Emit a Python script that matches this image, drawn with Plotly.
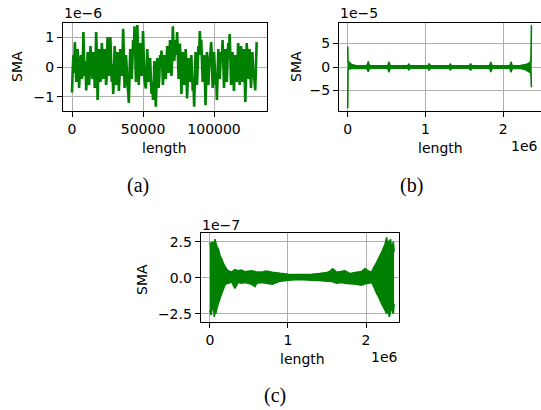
import plotly.graph_objects as go

W, H = 541, 410
GREEN = "#008000"
FONT = "DejaVu Sans"

# ---------------- (a) data: SMA (in 1e-6), one sample every 500 of length ----------------
a_sma = [
    -0.85, -0.1, 0.4, -0.2, 0.83, 0.2, -0.5, -0.1, 0.6, 0.1,
    -0.7, -0.2, 0.3, 0.4, -0.4, -0.2, 1.17, 0.3, -0.3, 0.2,
    -0.78, -0.3, 0.5, 0.1, -0.6, -0.2, 0.7, 0.3, -0.2, -0.4,
    0.5, 0.2, -0.7, -0.1, 1.17, 0.4, -1.1, -0.3, 0.6, 0.2,
    -0.5, -0.2, 0.8, 0.3, -0.4, -0.1, 0.6, 0.2, -0.6, -0.3,
    1.0, 0.4, -0.3, 0.0, 1.0, 0.3, -0.5, 0.1, -0.9, -0.4,
    0.7, 0.2, -0.6, -0.2, 0.5, 0.1, -0.8, -0.3, 0.6, 0.2,
    -0.3, 0.1, 1.28, 0.4, -0.7, -0.3, 0.4, 0.0, -0.6, -0.8,
    -1.2, -0.3, 0.6, 0.2, -0.4, 0.1, 0.9, 0.5, 1.36, 0.6,
    -0.5, 0.3, 1.4, 0.5, -0.6, 0.0, 0.8, 0.3, -0.3, 0.1,
    1.2, 0.4, -0.4, -0.6, -0.72, -0.2, 0.6, 0.0, -0.5, -0.3,
    0.3, -0.4, -0.9, -0.5, -1.1, -0.6, 0.2, -0.4, -1.33, -0.5,
    0.3, -0.2, -0.7, -0.3, 0.4, 0.1, 0.55, 0.1, -0.6, -0.2,
    0.4, 0.0, -0.4, 0.1, 0.7, 0.3, -0.2, 0.2, 0.9, 0.4,
    -0.3, 0.2, 1.36, 0.6, 0.2, 0.5, 0.9, 0.4, 1.17, 0.5,
    -0.4, 0.1, 0.78, 0.2, -0.9, -0.3, 0.5, 0.1, -0.6, -0.1,
    0.6, 0.1, -1.05, -0.4, 0.3, -0.1, -0.5, -0.1, 0.4, -0.2,
    -0.8, -0.5, -1.33, -0.4, 0.5, -0.1, -0.6, 0.0, 0.7, 0.4,
    1.2, 0.6, 0.9, 0.2, -0.5, 0.0, 0.4, -0.3, -1.28, -0.4,
    0.5, 0.0, -0.6, -0.1, 0.3, 0.5, 0.83, 0.2, -0.7, -0.2,
    0.5, 0.0, -0.6, -0.3, -1.1, -0.3, 0.6, 0.1, -0.4, 0.1,
    0.5, 0.3, 0.9, 0.2, -0.7, -0.1, 0.6, 0.0, -0.5, 0.2,
    0.8, 0.4, 1.1, 0.3, -0.6, -0.1, 0.5, 0.0, -0.8, -0.2,
    0.4, 0.0, -0.5, 0.2, 0.8, 0.2, -0.6, 0.0, 0.7, 0.1,
    -0.5, 0.1, 0.6, -0.2, -1.17, -0.3, 0.8, 0.2, -0.4, 0.1,
    0.6, 0.0, -0.7, -0.1, 0.5, 0.0, -0.3, -0.5, -0.78, 0.0,
    0.83,
]
a_step = 500  # length units between samples

# ---------------- (b) data: envelope (length in 1e6, SMA in 1e-5) ----------------
b_len_m = [0.000, 0.004, 0.02, 0.05, 0.10,
           0.24, 0.256, 0.264, 0.272, 0.29,
           0.51, 0.522, 0.53, 0.538, 0.55,
           0.77, 0.778, 0.786, 0.794, 0.81,
           1.03, 1.038, 1.046, 1.054, 1.07,
           1.30, 1.312, 1.32, 1.328, 1.34,
           1.56, 1.572, 1.58, 1.588, 1.60,
           1.82, 1.832, 1.84, 1.848, 1.86,
           2.08, 2.092, 2.10, 2.108, 2.12,
           2.22, 2.29, 2.33, 2.355, 2.362, 2.366]
b_upper = [4.35, 1.2, 1.0, 0.5, 0.3,
           0.25, 0.6, 1.2, 0.6, 0.25,
           0.25, 0.6, 1.1, 0.6, 0.25,
           0.25, 0.4, 0.6, 0.4, 0.25,
           0.25, 0.45, 0.7, 0.45, 0.25,
           0.25, 0.4, 0.6, 0.4, 0.25,
           0.25, 0.45, 0.7, 0.45, 0.25,
           0.25, 0.6, 1.1, 0.6, 0.25,
           0.25, 0.6, 1.1, 0.6, 0.25,
           0.3, 0.5, 0.8, 1.2, 8.8, 8.8]
b_lower = [-8.7, -0.6, -0.4, -0.3, -0.3,
           -0.25, -0.6, -1.0, -0.6, -0.25,
           -0.25, -0.6, -1.1, -0.6, -0.25,
           -0.25, -0.4, -0.6, -0.4, -0.25,
           -0.25, -0.45, -0.7, -0.45, -0.25,
           -0.25, -0.4, -0.6, -0.4, -0.25,
           -0.25, -0.45, -0.7, -0.45, -0.25,
           -0.25, -0.6, -1.1, -0.6, -0.25,
           -0.25, -0.6, -1.1, -0.6, -0.25,
           -0.3, -0.6, -1.0, -1.3, -4.2, -4.2]

# ---------------- (c) data: envelope (length in 1e6, SMA in 1e-7) ----------------
c_len_m = [0.0, 0.013, 0.03, 0.043, 0.055, 0.064, 0.075, 0.085, 0.107, 0.13,
           0.15, 0.17, 0.19, 0.21, 0.235, 0.278, 0.32, 0.36, 0.406, 0.45,
           0.49, 0.53, 0.577, 0.6, 0.66, 0.72, 0.8, 0.9, 1.0, 1.1,
           1.2, 1.3, 1.4, 1.5, 1.54, 1.573, 1.624, 1.68, 1.73, 1.795,
           1.88, 1.944, 1.987, 2.03, 2.073, 2.1, 2.137, 2.17, 2.2, 2.244,
           2.265, 2.28, 2.3, 2.315, 2.33, 2.35, 2.36]
c_upper = [2.45, 2.2, 2.5, 2.4, 2.1, 2.68, 2.4, 2.2, 1.98, 1.5,
           1.3, 1.0, 0.8, 0.62, 0.48, 0.38, 0.55, 0.48, 0.52, 0.4,
           0.44, 0.48, 0.42, 0.38, 0.38, 0.46, 0.38, 0.3, 0.24, 0.22,
           0.22, 0.24, 0.28, 0.36, 0.45, 0.62, 0.38, 0.42, 0.48, 0.28,
           0.38, 0.42, 0.64, 0.46, 0.38, 0.72, 1.06, 1.42, 1.75, 2.32,
           2.8, 2.2, 2.57, 2.62, 1.9, 2.5, 1.8]
c_lower = [-2.25, -2.6, -2.1, -1.8, -2.72, -2.4, -2.5, -2.2, -1.78, -1.42,
           -1.1, -0.82, -0.52, -0.42, -0.38, -0.3, -0.75, -0.33, -0.38, -0.33,
           -0.38, -0.45, -0.62, -0.38, -0.33, -0.38, -0.46, -0.24, -0.18, -0.15,
           -0.15, -0.18, -0.2, -0.24, -0.24, -0.28, -0.38, -0.33, -0.38, -0.42,
           -0.46, -0.52, -0.42, -0.38, -0.33, -0.62, -1.1, -1.42, -1.8, -2.25,
           -2.5, -2.2, -2.72, -2.3, -2.2, -2.5, -1.8]

a_x = [i * a_step for i in range(len(a_sma))]
a_y = [v * 1e-6 for v in a_sma]
b_x = [v * 1e6 for v in b_len_m]
b_up = [v * 1e-5 for v in b_upper]
b_lo = [v * 1e-5 for v in b_lower]
c_x = [v * 1e6 for v in c_len_m]
c_up = [v * 1e-7 for v in c_upper]
c_lo = [v * 1e-7 for v in c_lower]

fig = go.Figure()
line = dict(color=GREEN, width=1.6, simplify=False)
fig.add_trace(go.Scatter(x=a_x, y=a_y, mode="lines",
                         line=dict(color=GREEN, width=2.6, simplify=False),
                         xaxis="x", yaxis="y"))
fig.add_trace(go.Scatter(x=b_x, y=b_lo, mode="lines", line=line, xaxis="x2", yaxis="y2"))
fig.add_trace(go.Scatter(x=b_x, y=b_up, mode="lines", line=line, fill="tonexty",
                         fillcolor=GREEN, xaxis="x2", yaxis="y2"))
fig.add_trace(go.Scatter(x=c_x, y=c_lo, mode="lines", line=line, xaxis="x3", yaxis="y3"))
fig.add_trace(go.Scatter(x=c_x, y=c_up, mode="lines", line=line, fill="tonexty",
                         fillcolor=GREEN, xaxis="x3", yaxis="y3"))


def px_x(p):
    return p / W


def px_y(p):
    return 1 - p / H


common = dict(showline=True, linecolor="black", linewidth=1, mirror=True,
              showgrid=True, gridcolor="#b0b0b0", gridwidth=1, zeroline=False,
              ticks="outside", ticklen=5, tickcolor="black", tickwidth=1,
              tickfont=dict(family=FONT, size=14, color="black"))

fig.update_layout(
    width=W, height=H, margin=dict(l=0, r=0, t=0, b=0),
    paper_bgcolor="white", plot_bgcolor="white", showlegend=False,
    xaxis=dict(domain=[px_x(63), px_x(267)], anchor="y", range=[-6336, 137280],
               tickvals=[0, 50000, 100000], ticktext=["0", "50000", "100000"], **common),
    yaxis=dict(domain=[px_y(111), px_y(23)], anchor="x", range=[-1.47e-6, 1.47e-6],
               tickvals=[-1e-6, 0, 1e-6], ticktext=["\u22121", "0", "1"], **common),
    xaxis2=dict(domain=[px_x(339), 1.0], anchor="y2", range=[-0.112e6, 2.485e6],
                tickvals=[0, 1e6, 2e6], ticktext=["0", "1", "2"], **common),
    yaxis2=dict(domain=[px_y(111), px_y(23)], anchor="x2", range=[-9.36e-5, 9.36e-5],
                tickvals=[-5e-5, 0, 5e-5], ticktext=["\u22125", "0", "5"], **common),
    xaxis3=dict(domain=[px_x(200.7), px_x(399)], anchor="y3", range=[-0.119e6, 2.423e6],
                tickvals=[0, 1e6, 2e6], ticktext=["0", "1", "2"], **common),
    yaxis3=dict(domain=[px_y(322), px_y(233)], anchor="x3", range=[-3.08e-7, 3.10e-7],
                tickvals=[-2.5e-7, 0, 2.5e-7], ticktext=["\u22122.5", "0.0", "2.5"], **common),
)


def ann(text, x, y, xanchor="center", size=14, family=FONT, angle=0):
    fig.add_annotation(text=text, x=px_x(x), y=px_y(y), xref="paper", yref="paper",
                       xanchor=xanchor, yanchor="middle", showarrow=False,
                       textangle=angle, font=dict(family=family, size=size, color="black"))


# offset texts
ann("1e\u22126", 62, 13, xanchor="left")
ann("1e\u22125", 338, 13, xanchor="left")
ann("1e\u22127", 200, 225, xanchor="left")
ann("1e6", 540, 146, xanchor="right")
ann("1e6", 400, 357, xanchor="right")
# axis titles
ann("SMA", 17, 67, angle=-90)
ann("SMA", 296, 67, angle=-90)
ann("SMA", 142, 280, angle=-90)
ann("length", 164, 148)
ann("length", 440, 148)
ann("length", 302, 359)
# captions
ann("(a)", 138, 186, size=20, family="Liberation Serif")
ann("(b)", 411, 186, size=20, family="Liberation Serif")
ann("(c)", 275, 395, size=20, family="Liberation Serif")

fig.write_html("out.html", config={"displayModeBar": False},
               post_script="document.body.style.margin='0';document.body.style.padding='0';"
                           "document.documentElement.style.overflow='hidden';")
